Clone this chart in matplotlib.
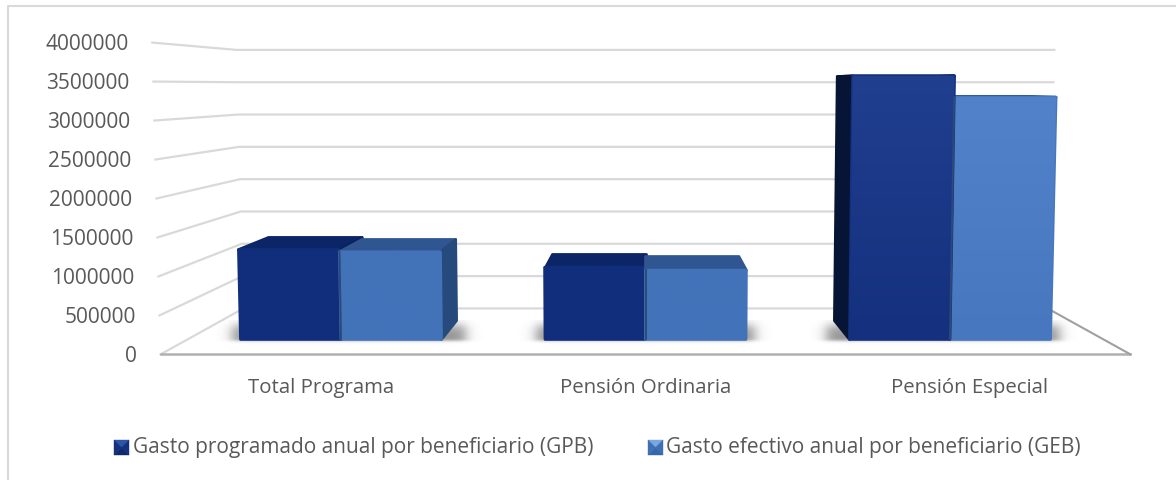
import numpy as np
import matplotlib
matplotlib.use("Agg")
import matplotlib.pyplot as plt
from matplotlib.colors import to_rgb
from matplotlib.lines import Line2D
from matplotlib.patches import Polygon
from matplotlib.transforms import Affine2D

plt.rcParams['font.family'] = ['Open Sans', 'DejaVu Sans']

categories = ["Total Programa", "Pensión Ordinaria", "Pensión Especial"]
gpb = [1220000, 980000, 3580000]
geb = [1190000, 940000, 3290000]
series_names = ["Gasto programado anual por beneficiario (GPB)",
                "Gasto efectivo anual por beneficiario (GEB)"]
ticks = [0, 500000, 1000000, 1500000, 2000000, 2500000, 3000000, 3500000, 4000000]

# depth planes, 1 = front of the bars
S_FRONT, S_BAR, S_BARBACK, S_WALL = 1.059, 1.0, 0.926, 0.878
HORIZON = 3451000
LEAN = 4.2e-9
W = 0.33
LEFT_EDGE, RIGHT_EDGE = -0.504, 2.504

TEXT = "#595959"


def project(x, v, s):
    return 1 + (x - 1) * s * (1 + LEAN * v), HORIZON + (v - HORIZON) * s


def quad(ax, pts, color, z):
    # a little edge with round joins gives the soft bevel of the 3d bars
    p = Polygon(pts, closed=True, facecolor=color, edgecolor=color, lw=2,
                joinstyle="round", zorder=z)
    ax.add_patch(p)
    return p


def gradient_face(ax, pts, top, bottom, z):
    p = Polygon(pts, closed=True, facecolor="none", edgecolor="none", zorder=z)
    ax.add_patch(p)
    grad = np.linspace(0, 1, 64)[:, None, None]
    img = np.array(to_rgb(top))[None, None, :] * (1 - grad) + np.array(to_rgb(bottom))[None, None, :] * grad
    xs, ys = zip(*pts)
    im = ax.imshow(img, extent=(min(xs), max(xs), min(ys), max(ys)), origin="upper",
                   aspect="auto", zorder=z, interpolation="bilinear")
    im.set_clip_path(p)


def shadow(ax, x0, x1):
    # soft box on the floor, blurred with two sigmoids each way
    pad_x, pad_y = 0.16, 70000
    left = min(x0, project(x0, 0, S_BARBACK)[0]) - 0.03
    right = max(x1, project(x1, 0, S_BARBACK)[0]) + 0.03
    floor_back = project(0, 0, S_BARBACK)[1] - 60000
    floor_front = project(0, 0, S_BAR)[1] - 15000
    xs = np.linspace(left - pad_x, right + pad_x, 200)
    ys = np.linspace(floor_front - pad_y, floor_back + pad_y, 50)
    sx = (1 / (1 + np.exp(-(xs - left) / 0.012))) * (1 / (1 + np.exp((xs - right) / 0.012)))
    sy = (1 / (1 + np.exp(-(ys - floor_front) / 12000))) * (1 / (1 + np.exp((ys - floor_back) / 40000)))
    rgba = np.zeros((50, 200, 4))
    rgba[..., :3] = 0.3
    rgba[..., 3] = 0.6 * np.outer(sy, sx)
    ax.imshow(rgba, extent=(xs[0], xs[-1], ys[0], ys[-1]), origin="lower", aspect="auto",
              zorder=3, interpolation="bilinear")


def draw_bar(ax, x0, x1, v, front, side, top_c, z):
    fl, fr = project(x0, 0, S_BAR), project(x1, 0, S_BAR)
    tl, tr = project(x0, v, S_BAR), project(x1, v, S_BAR)
    bfl, bfr = project(x0, 0, S_BARBACK), project(x1, 0, S_BARBACK)
    btl, btr = project(x0, v, S_BARBACK), project(x1, v, S_BARBACK)
    quad(ax, [tl, tr, btr, btl], top_c, z)
    if x1 < 1:
        quad(ax, [tr, fr, bfr, btr], side, z)
    if x0 > 1:
        quad(ax, [tl, fl, bfl, btl], side, z)
    quad(ax, [fl, tl, tr, fr], front[1], z + 0.1)
    gradient_face(ax, [fl, tl, tr, fr], front[0], front[1], z + 0.2)


fig = plt.figure(figsize=(11.76, 4.8), dpi=100)
ax = fig.add_axes([0, 0, 1, 1])
ax.axis("off")

# pixel transform for frame and legend
px = Affine2D().scale(1 / 1176, -1 / 480).translate(0, 1) + fig.transFigure
fig.add_artist(Line2D([8, 8, 1176], [480, 5.5, 5.5], transform=px, color="#d9d9d9", lw=1.5))

# walls and gridlines
for v in ticks:
    a = project(LEFT_EDGE, v, S_FRONT)
    b = project(LEFT_EDGE, v, S_WALL)
    c = project(RIGHT_EDGE, v, S_WALL)
    ax.plot([a[0], b[0], c[0]], [a[1], b[1], c[1]], color="#d9d9d9", lw=1.6, zorder=1)
    ax.annotate(f"{v}", a, xytext=(-24, -2), textcoords="offset pixels", ha="right",
                va="center", fontsize=15, color=TEXT)

f0, f1 = project(LEFT_EDGE, 0, S_FRONT), project(RIGHT_EDGE, 0, S_FRONT)
b1 = project(RIGHT_EDGE, 0, S_WALL)
ax.plot([f0[0], f1[0]], [f0[1], f1[1]], color="#b0b0b0", lw=1.8, zorder=2)
ax.plot([f1[0], b1[0]], [f1[1], b1[1]], color="#a0a0a0", lw=1.5, zorder=2)

label_x = [-0.064, 1.0, 2.064]
for i, cat in enumerate(categories):
    shadow(ax, i - W, i + W)
    tall = i == 2
    dark_front = ("#213f8f", "#14307f") if tall else ("#112e7c", "#112e7c")
    light_front = ("#5283ca", "#4677bf") if tall else ("#4273b9", "#4273b9")
    dark_args = (i - W, i, gpb[i], dark_front, "#061535" if tall else "#0b2160", "#0c2566")
    light_args = (i, i + W, geb[i], light_front, "#264a7c", "#2f5690")
    if tall:
        draw_bar(ax, *light_args, 5)
        draw_bar(ax, *dark_args, 6)
    else:
        draw_bar(ax, *dark_args, 5)
        draw_bar(ax, *light_args, 6)
    # seam between the two bars
    s0, s1 = project(i, 0, S_BAR), project(i, min(gpb[i], geb[i]), S_BAR)
    ax.plot([s0[0], s1[0]], [s0[1], s1[1]], color="#2b4a78", lw=1.4, zorder=7)

    ax.text(label_x[i], -665000, cat, ha="center", va="center", fontsize=14.7, color=TEXT)


def legend_marker(x, y, size, c_top, c_side, c_bottom):
    cx, cy = x + size / 2, y + size / 2
    corners = [(x, y), (x + size, y), (x + size, y + size), (x, y + size)]
    for k, col in enumerate([c_top, c_side, c_bottom, c_side]):
        fig.add_artist(Polygon([corners[k], corners[(k + 1) % 4], (cx, cy)], closed=True,
                               transform=px, fc=col, ec=col, lw=0.3))


legend_marker(114, 440, 15, "#2d54a8", "#14307f", "#0f2a6c")
legend_marker(648, 440, 15, "#7aa7e0", "#3f6fb5", "#3566a8")
fig.text(133 / 1176, 1 - 447 / 480, series_names[0], ha="left", va="center", fontsize=15, color=TEXT)
fig.text(666 / 1176, 1 - 447 / 480, series_names[1], ha="left", va="center", fontsize=15, color=TEXT)

# imshow resets the limits, so set them last
# x in category units, y in value units of the bar front plane
ax.set_xlim(-1.1199, 2.7422)
ax.set_ylim(-1910000, 4611000)
fig.savefig("out.png", dpi=100)
